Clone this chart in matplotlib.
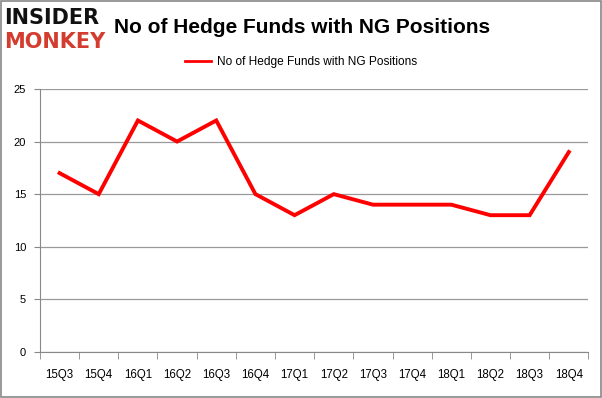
import matplotlib
matplotlib.use("Agg")
import matplotlib.pyplot as plt
from matplotlib.patches import Rectangle
from matplotlib.lines import Line2D

quarters = ["15Q3", "15Q4", "16Q1", "16Q2", "16Q3", "16Q4", "17Q1",
            "17Q2", "17Q3", "17Q4", "18Q1", "18Q2", "18Q3", "18Q4"]
funds = [17, 15, 22, 20, 22, 15, 13, 15, 14, 14, 14, 13, 13, 19]
series_name = "No of Hedge Funds with NG Positions"
y_ticks = [0, 5, 10, 15, 20, 25]

plt.rcParams['font.family'] = ['Liberation Sans', 'DejaVu Sans']

fig = plt.figure(figsize=(6.02, 3.98), dpi=100)
fig.patches.append(Rectangle((0.0015, 0.002), 0.997, 0.995, transform=fig.transFigure,
                             fill=False, edgecolor="#888888", linewidth=1.2))

ax = fig.add_axes([0.0664, 0.1156, 0.911, 0.661])
x = list(range(len(quarters)))
line, = ax.plot(x, funds, color="#ff0000", linewidth=2.8, solid_joinstyle="miter")

ax.set_xlim(-0.5, len(quarters) - 0.5)
ax.set_ylim(0, 25)
ax.set_yticks(y_ticks)
ax.set_yticklabels([str(v) for v in y_ticks], fontsize=8)
ax.set_xticks(x)
ax.set_xticklabels(quarters, fontsize=8.3)
ax.tick_params(axis="x", length=0, pad=12)
ax.set_xticks([i - 0.5 for i in range(len(quarters) + 1)], minor=True)
ax.tick_params(axis="x", which="minor", length=5, color="#888888")
ax.tick_params(axis="y", length=4, color="#888888", pad=6)
ax.grid(axis="y", color="#999999", linewidth=0.9)
ax.set_axisbelow(True)
for s in ["top", "right"]:
    ax.spines[s].set_visible(False)
ax.spines["left"].set_color("#888888")
ax.spines["bottom"].set_color("#888888")

fig.text(0.007, 0.955, "INSIDER", fontsize=15, fontweight="bold", color="#111111",
         va="center", ha="left", family=["DejaVu Sans"])
fig.text(0.007, 0.895, "MONKEY", fontsize=15, fontweight="bold", color="#d33c2e",
         va="center", ha="left", family=["DejaVu Sans"])
fig.text(0.19, 0.93, series_name, fontsize=15, fontweight="bold", color="black",
         va="center", ha="left")

handle = Line2D([], [], color="#ff0000", linewidth=2)
fig.legend([handle], [series_name], loc="center", bbox_to_anchor=(0.5, 0.843),
           frameon=False, fontsize=8.6, handlelength=2.2, handletextpad=0.5)

fig.savefig("out.png", dpi=100)
